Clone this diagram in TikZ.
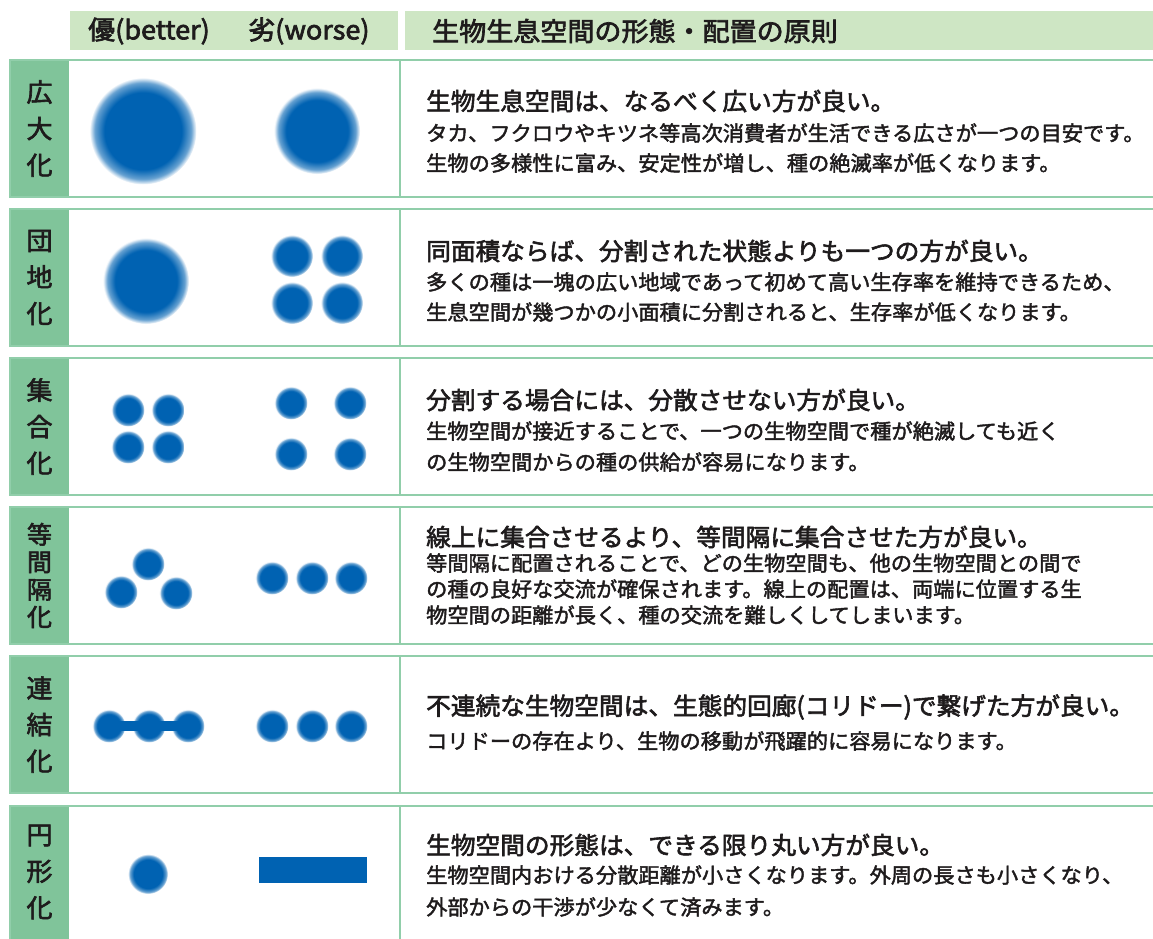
\documentclass[tikz,border=0pt]{standalone}
\usepackage{fontspec}
\newfontfamily\jpbody[FakeStretch=1.02,FakeBold=2.0]{Noto Sans CJK JP}
\newfontfamily\jptitle[FakeStretch=1.02,FakeBold=2.4]{Noto Sans CJK JP}
\newfontfamily\jphead[FakeStretch=1.04,FakeBold=2.6]{Noto Sans CJK JP}
\newfontfamily\jplabel[FakeStretch=1.02,FakeBold=2.4]{Noto Sans CJK JP}
\definecolor{dotblue}{RGB}{0,98,178}
\definecolor{lblgreen}{RGB}{128,196,154}
\definecolor{brdgreen}{RGB}{145,206,170}
\definecolor{hdgreen}{RGB}{206,230,196}
\definecolor{ink}{RGB}{30,27,28}
\pgfdeclareradialshading{blurdot}{\pgfpoint{0bp}{0bp}}{color(0bp)=(dotblue); color(18bp)=(dotblue); color(22.5bp)=(dotblue!60!white); color(25bp)=(white); color(50bp)=(white)}
\begin{document}
\begin{tikzpicture}[x=1pt,y=-1pt,
  frame/.style={draw=brdgreen,line width=2.5pt},
  blob/.style={circle,inner sep=0pt,outer sep=0pt,shade,shading=blurdot,minimum size=#1},
  hdr/.style={anchor=west,inner sep=0pt,text=ink,font=\jphead\fontsize{26}{29}\selectfont},
  ttl/.style={anchor=west,inner sep=0pt,text=ink,font=\jptitle\fontsize{24.2}{28}\selectfont},
  bdy/.style={anchor=west,inner sep=0pt,text=ink,font=\jpbody\fontsize{20.8}{24}\selectfont},
  lbl/.style={align=center,inner sep=0pt,text=ink,font=\jplabel\fontsize{25.5}{36.5}\selectfont},
  lblfour/.style={lbl,font=\jplabel\fontsize{24.5}{27.5}\selectfont}]
\useasboundingbox (0,0) rectangle (1153,938);
\clip (0,0) rectangle (1153,938);
\fill[white] (0,0) rectangle (1153,938);
% header
\fill[hdgreen] (70,11) rectangle (398,50);
\fill[hdgreen] (405,11) rectangle (1160,50);
\node[hdr] (hb) at (88,31) {優(better)};
\node[hdr] (hw) at (248,31) {劣(worse)};
\node[hdr] (hp) at (432,31) {生物生息空間の形態・配置の原則};
% row frames
\foreach \t in {60,209,358,507,656,806}{
  \fill[lblgreen] (10,\t) rectangle (69,\t+137);
  \draw[frame] (10,\t) rectangle (1170,\t+137);
  \draw[frame] (400,\t) -- (400,\t+137);
}
% labels
\node[lbl] (l1) at (39.5,128.5) {広\\大\\化};
\node[lbl] (l2) at (39.5,277.5) {団\\地\\化};
\node[lbl] (l3) at (39.5,426.5) {集\\合\\化};
\node[lblfour] (l4) at (39.5,575.5) {等\\間\\隔\\化};
\node[lbl] (l5) at (39.5,724.5) {連\\結\\化};
\node[lbl] (l6) at (39.5,872) {円\\形\\化};
% row 1 shapes
\node[blob=107] (r1b) at (143,131) {};
\node[blob=86] (r1w) at (317,131) {};
% row 2
\node[blob=86] (r2b) at (146,281) {};
\node[blob=42] (r2w1) at (292,256) {};
\node[blob=42] (r2w2) at (342,256) {};
\node[blob=42] (r2w3) at (292,303) {};
\node[blob=42] (r2w4) at (342,303) {};
% row 3
\node[blob=33] (r3b1) at (128,410) {};
\node[blob=33] (r3b2) at (168,410) {};
\node[blob=33] (r3b3) at (128,447) {};
\node[blob=33] (r3b4) at (168,447) {};
\node[blob=33] (r3w1) at (291,403) {};
\node[blob=33] (r3w2) at (350,403) {};
\node[blob=33] (r3w3) at (291,454) {};
\node[blob=33] (r3w4) at (350,454) {};
% row 4
\node[blob=33] (r4b1) at (148,564) {};
\node[blob=33] (r4b2) at (121,592) {};
\node[blob=33] (r4b3) at (176,593) {};
\node[blob=33] (r4w1) at (272,578) {};
\node[blob=33] (r4w2) at (312,578) {};
\node[blob=33] (r4w3) at (351,578) {};
% row 5
\node[blob=33] (r5b1) at (109,726) {};
\node[blob=33] (r5b2) at (149,726) {};
\node[blob=33] (r5b3) at (188,726) {};
\draw[line width=10pt,dotblue] (r5b1.center) -- (r5b3.center);
\node[blob=33] (r5w1) at (272,726) {};
\node[blob=33] (r5w2) at (312,726) {};
\node[blob=33] (r5w3) at (351,726) {};
% row 6
\node[blob=40] (r6b) at (148,874) {};
\node[fill=dotblue,inner sep=0pt,minimum width=108,minimum height=26] (r6w) at (313,870) {};
% texts
\node[ttl] (t1) at (426,101) {生物生息空間は、なるべく広い方が良い。};
\node[bdy] (t1a) at (426,133) {タカ、フクロウやキツネ等高次消費者が生活できる広さが一つの目安です。};
\node[bdy] (t1b) at (426,163) {生物の多様性に富み、安定性が増し、種の絶滅率が低くなります。};
\node[ttl] (t2) at (426,251) {同面積ならば、分割された状態よりも一つの方が良い。};
\node[bdy] (t2a) at (426,282) {多くの種は一塊の広い地域であって初めて高い生存率を維持できるため、};
\node[bdy] (t2b) at (426,312) {生息空間が幾つかの小面積に分割されると、生存率が低くなります。};
\node[ttl] (t3) at (426,400) {分割する場合には、分散させない方が良い。};
\node[bdy] (t3a) at (426,431) {生物空間が接近することで、一つの生物空間で種が絶滅しても近く};
\node[bdy] (t3b) at (426,462) {の生物空間からの種の供給が容易になります。};
\node[ttl] (t4) at (426,537) {線上に集合させるより、等間隔に集合させた方が良い。};
\node[bdy] (t4a) at (426,563) {等間隔に配置されることで、どの生物空間も、他の生物空間との間で};
\node[bdy] (t4b) at (426,589) {の種の良好な交流が確保されます。線上の配置は、両端に位置する生};
\node[bdy] (t4c) at (426,615) {物空間の距離が長く、種の交流を難しくしてしまいます。};
\node[ttl] (t5) at (426,707) {不連続な生物空間は、生態的回廊(コリドー)で繋げた方が良い。};
\node[bdy] (t5a) at (426,741) {コリドーの存在より、生物の移動が飛躍的に容易になります。};
\node[ttl] (t6) at (426,845) {生物空間の形態は、できる限り丸い方が良い。};
\node[bdy] (t6a) at (426,875) {生物空間内おける分散距離が小さくなります。外周の長さも小さくなり、};
\node[bdy] (t6b) at (426,907) {外部からの干渉が少なくて済みます。};
\end{tikzpicture}
\end{document}
